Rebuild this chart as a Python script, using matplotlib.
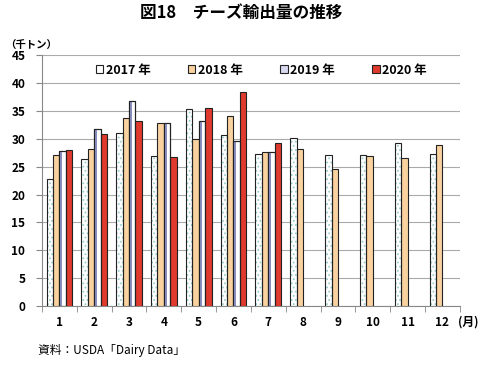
import matplotlib
matplotlib.use("Agg")
import matplotlib.pyplot as plt
import numpy as np
from matplotlib.patches import Patch

plt.rcParams['font.family'] = ['Noto Sans CJK JP', 'DejaVu Sans']
plt.rcParams['hatch.linewidth'] = 0.8

months = ['1', '2', '3', '4', '5', '6', '7', '8', '9', '10', '11', '12']
v2017 = [22.8, 26.3, 31.1, 26.9, 35.4, 30.6, 27.2, 30.2, 27.0, 27.0, 29.3, 27.2]
v2018 = [27.0, 28.1, 33.8, 32.8, 29.9, 34.1, 27.6, 28.1, 24.6, 26.9, 26.5, 28.8]
v2019 = [27.75, 31.8, 36.8, 32.8, 33.1, 29.6, 27.7]
v2020 = [27.9, 30.9, 33.25, 26.7, 35.6, 38.4, 29.2]
legend_labels = ['2017 年', '2018 年', '2019 年', '2020 年']
yticks = [0, 5, 10, 15, 20, 25, 30, 35, 40, 45]

fig = plt.figure(figsize=(4.82, 3.65), dpi=100)
ax = fig.add_axes([0.0871, 0.1616, 0.8669, 0.6874])

x = np.arange(len(months))
w = 0.185
offs = [-1.5 * w, -0.5 * w, 0.5 * w, 1.5 * w]

# 2017: white with teal dots
ax.bar(x[:len(v2017)] + offs[0], v2017, w, color='white', edgecolor='#9ccfcf',
       hatch='....', linewidth=0, zorder=3)
ax.bar(x[:len(v2017)] + offs[0], v2017, w, fill=False, edgecolor='#222222',
       linewidth=0.8, zorder=4)
# 2018: light orange
ax.bar(x[:len(v2018)] + offs[1], v2018, w, color='#f9d2a0', edgecolor='#222222',
       linewidth=0.8, zorder=3)
# 2019: white with slate stripe
x19 = x[:len(v2019)] + offs[2]
ax.bar(x19, v2019, w, color='white', edgecolor='#222222', linewidth=0.8, zorder=3)
ax.bar(x19 - w * 0.25, v2019, w * 0.4, color='#8a8fc0', linewidth=0, zorder=3.5)
ax.bar(x19, v2019, w, fill=False, edgecolor='#222222', linewidth=0.8, zorder=4)
# 2020: red
ax.bar(x[:len(v2020)] + offs[3], v2020, w, color='#e03a2e', edgecolor='#222222',
       linewidth=0.8, zorder=3)

ax.set_xlim(-0.5, len(months) - 0.5)
ax.set_ylim(0, 45)
ax.set_yticks(yticks)
ax.set_yticklabels([str(t) for t in yticks], fontsize=8.5, fontweight='bold')
ax.set_xticks(x)
ax.set_xticklabels(months, fontsize=8.5, fontweight='bold')
ax.set_xticks(np.arange(-0.5, len(months)), minor=True)
ax.tick_params(axis='x', which='major', length=0, pad=7)
ax.tick_params(axis='x', which='minor', length=4, color='#888888', direction='out')
ax.tick_params(axis='y', length=4, color='#888888', direction='out', pad=8)
ax.grid(axis='y', color='#aaaaaa', linewidth=0.8, zorder=0)
for s in ['top', 'right']:
    ax.spines[s].set_visible(False)
ax.spines['left'].set_color('#888888')
ax.spines['bottom'].set_color('#888888')

handles = [
    Patch(facecolor='white', edgecolor='#222222', linewidth=0.8),
    Patch(facecolor='#f9d2a0', edgecolor='#222222', linewidth=0.8),
    Patch(facecolor='#d8daf0', edgecolor='#222222', linewidth=0.8),
    Patch(facecolor='#e03a2e', edgecolor='#222222', linewidth=0.8),
]
leg = ax.legend(handles, legend_labels, loc='upper center', bbox_to_anchor=(0.525, 1.01),
                ncol=4, frameon=False, handlelength=0.6, handleheight=0.6,
                handletextpad=0.2, columnspacing=3.0,
                prop={'size': 9, 'weight': 'bold'})

fig.text(0.5, 0.965, '図18　チーズ輸出量の推移', ha='center', va='center',
         fontsize=12, fontweight='bold')
fig.text(0.01, 0.877, '（千トン）', ha='left', va='center', fontsize=7.5, fontweight='bold')
fig.text(0.951, 0.118, '(月)', ha='left', va='center', fontsize=8.5, fontweight='bold')
fig.text(0.079, 0.04, '資料：USDA「Dairy Data」', ha='left', va='center', fontsize=8.5)

fig.savefig('out.png', dpi=100)
